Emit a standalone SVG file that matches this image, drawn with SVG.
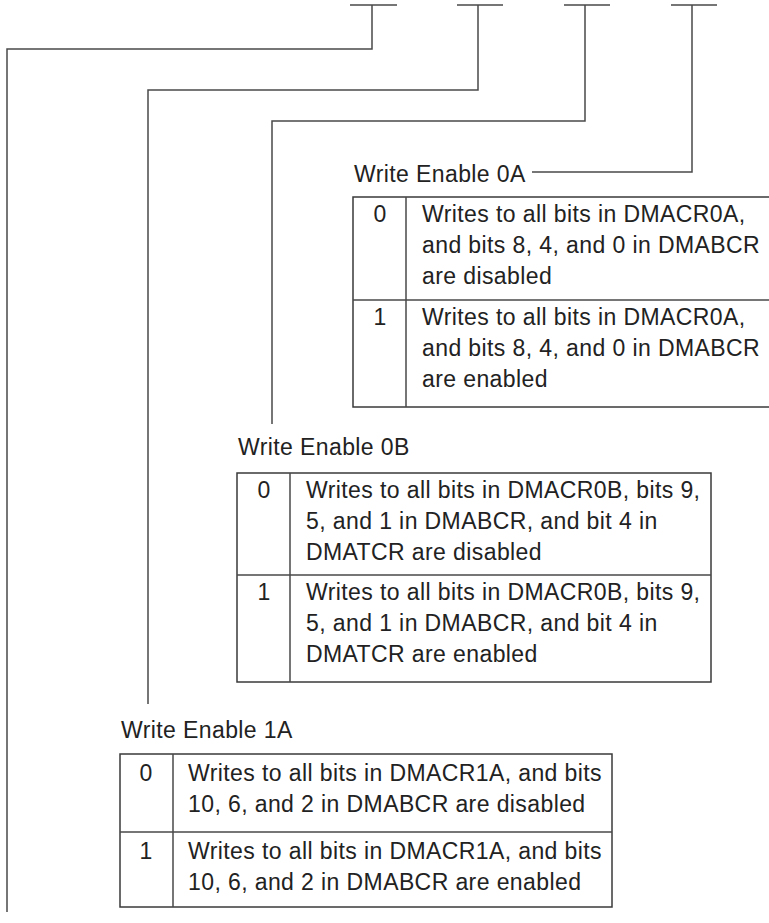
<svg xmlns="http://www.w3.org/2000/svg" width="769" height="923" viewBox="0 0 769 923">
<style>
.ln{fill:none;stroke:#4a4a4a;stroke-width:1.5}
.bx{fill:#fff;stroke:#3a3a3a;stroke-width:1.5}
.t{font-family:"Liberation Sans",Arial,sans-serif;font-size:23px;fill:#222;letter-spacing:0.4px}
.d{text-anchor:middle}
</style>
<rect width="769" height="923" fill="#fff"/>
<g id="connectors" class="ln">
<path d="M350 5H397M457 5H503M564 5H610M671 5H717"/>
<path d="M372 5V49H7V912"/>
<path d="M478 5V90H148V704"/>
<path d="M585 5V121H272V424"/>
<path d="M692 5V172H532"/>
</g>
<g id="we0a">
<text class="t" x="354" y="182">Write Enable 0A</text>
<rect class="bx" x="353" y="197" width="430" height="210"/>
<path class="ln" d="M406 197V407M353 300H783"/>
<text class="t d" x="380" y="222">0</text>
<text class="t" x="422" y="222">Writes to all bits in DMACR0A,</text>
<text class="t" x="422" y="253">and bits 8, 4, and 0 in DMABCR</text>
<text class="t" x="422" y="284">are disabled</text>
<text class="t d" x="380" y="325">1</text>
<text class="t" x="422" y="325">Writes to all bits in DMACR0A,</text>
<text class="t" x="422" y="356">and bits 8, 4, and 0 in DMABCR</text>
<text class="t" x="422" y="387">are enabled</text>
</g>
<g id="we0b">
<text class="t" x="238" y="455">Write Enable 0B</text>
<rect class="bx" x="237" y="473" width="474" height="209"/>
<path class="ln" d="M290 473V682M237 575H711"/>
<text class="t d" x="264" y="498">0</text>
<text class="t" x="306" y="498">Writes to all bits in DMACR0B, bits 9,</text>
<text class="t" x="306" y="529">5, and 1 in DMABCR, and bit 4 in</text>
<text class="t" x="306" y="560">DMATCR are disabled</text>
<text class="t d" x="264" y="600">1</text>
<text class="t" x="306" y="600">Writes to all bits in DMACR0B, bits 9,</text>
<text class="t" x="306" y="631">5, and 1 in DMABCR, and bit 4 in</text>
<text class="t" x="306" y="662">DMATCR are enabled</text>
</g>
<g id="we1a">
<text class="t" x="121" y="738">Write Enable 1A</text>
<rect class="bx" x="120" y="754" width="492" height="153"/>
<path class="ln" d="M173 754V907M120 832H612"/>
<text class="t d" x="146" y="781">0</text>
<text class="t" x="188" y="781">Writes to all bits in DMACR1A, and bits</text>
<text class="t" x="188" y="812">10, 6, and 2 in DMABCR are disabled</text>
<text class="t d" x="146" y="859">1</text>
<text class="t" x="188" y="859">Writes to all bits in DMACR1A, and bits</text>
<text class="t" x="188" y="890">10, 6, and 2 in DMABCR are enabled</text>
</g>
</svg>
